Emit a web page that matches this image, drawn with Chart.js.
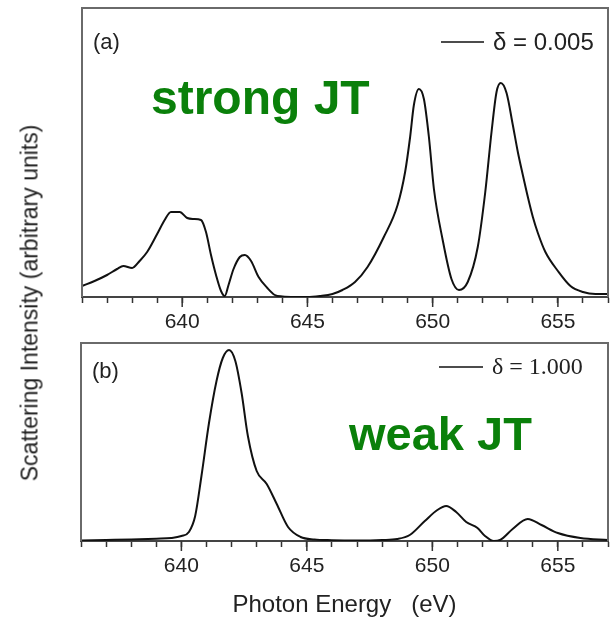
<!DOCTYPE html>
<html>
<head>
<meta charset="utf-8">
<script src="https://cdn.jsdelivr.net/npm/chart.js@4"></script>
<style>
  body { margin: 0; background: #fff; }
  #wrap { position: relative; width: 615px; height: 620px; overflow: hidden; }
  canvas { position: absolute; left: 0; }
  #chartA { top: 0; }
  #chartB { top: 335px; }
  #ytitle {
    position: absolute; left: 30px; top: 303px;
    transform: translate(-50%, -50%) rotate(-90deg);
    white-space: nowrap;
    font: 23px "Liberation Sans", Arial, sans-serif; color: #222;
  }
</style>
</head>
<body>
<div id="wrap">
  <canvas id="chartA" width="615" height="340"></canvas>
  <canvas id="chartB" width="615" height="285"></canvas>
  <div id="ytitle">Scattering Intensity (arbitrary units)</div>
</div>
<script>
// Panel (a): delta = 0.005, strong JT
const energyA = [636.0, 636.5, 637.0, 637.4, 637.65, 638.0, 638.3, 638.6, 639.0, 639.3, 639.55, 639.9,
  640.2, 640.45, 640.75, 640.95, 641.15, 641.35, 641.55, 641.7, 641.85, 642.05, 642.3, 642.5, 642.75,
  643.05, 643.4, 643.7, 644.0, 644.5, 645.0, 645.5, 646.0, 646.4, 646.9, 647.4, 648.05, 648.6, 648.9,
  649.1, 649.25, 649.45, 649.65, 649.85, 650.05, 650.4, 650.75, 651.05, 651.4, 651.8, 652.1, 652.35,
  652.55, 652.72, 652.95, 653.2, 653.4, 653.6, 653.8, 654.0, 654.2, 654.5, 655.0, 655.5, 656.0, 656.5, 657.0];
const intensityA = [11, 16, 22, 28, 31, 29, 36, 45, 63, 77, 85, 85,
  79, 78, 77, 65, 42, 22, 6, 1, 12, 28, 40, 42, 36,
  20, 9, 2, 0.5, 0, 0, 1, 3, 7, 15, 30, 60, 92, 125,
  160, 192, 208, 198, 160, 108, 57, 18, 7, 15, 50, 105, 165,
  205, 214, 204, 172, 145, 122, 100, 80, 64, 45, 26, 11, 5, 3, 3];

// Panel (b): delta = 1.000, weak JT
const energyB = [636.0, 637.0, 638.0, 639.0, 639.6, 640.0, 640.3, 640.55, 640.8, 641.1, 641.4, 641.65,
  641.9, 642.15, 642.4, 642.65, 643.0, 643.4, 643.8, 644.25, 644.75, 645.3, 646.0, 647.0, 648.0, 648.6,
  649.1, 649.7, 650.2, 650.55, 650.95, 651.35, 651.8, 652.1, 652.45, 652.7, 653.2, 653.8, 654.35, 655.0,
  655.9, 657.0];
const intensityB = [0.5, 1, 1.5, 2.3, 3, 5, 9, 25, 65, 118, 160, 183,
  191, 180, 148, 105, 70, 57, 37, 14, 4, 1.5, 0.8, 0.5, 1, 2,
  6, 20, 31, 35, 29, 19, 13, 5, 0, 1, 12, 22, 16, 8,
  3, 1];

const majorTicks = [640, 645, 650, 655];
const sans = '"Liberation Sans", Arial, sans-serif';

// frame, longer major ticks and in-panel labels
const panelDecor = {
  id: 'panelDecor',
  afterDraw(chart, args, opts) {
    const ctx = chart.ctx;
    const a = chart.chartArea;
    const x = chart.scales.x;
    ctx.save();
    ctx.strokeStyle = '#6a6a6a';
    ctx.lineWidth = 2;
    ctx.beginPath();
    ctx.moveTo(a.left, a.bottom);
    ctx.lineTo(a.left, a.top);
    ctx.lineTo(a.right, a.top);
    ctx.lineTo(a.right, a.bottom);
    ctx.stroke();

    ctx.strokeStyle = '#333';
    ctx.lineWidth = 1.5;
    majorTicks.forEach(v => {
      const px = x.getPixelForValue(v);
      ctx.beginPath();
      ctx.moveTo(px, a.bottom);
      ctx.lineTo(px, a.bottom + 10);
      ctx.stroke();
    });

    ctx.fillStyle = '#222';
    ctx.textBaseline = 'alphabetic';
    ctx.font = '22px ' + sans;
    ctx.fillText(opts.tag, opts.tagX, opts.tagY);

    ctx.strokeStyle = '#111';
    ctx.lineWidth = 1.5;
    ctx.beginPath();
    ctx.moveTo(opts.legX1, opts.legY);
    ctx.lineTo(opts.legX2, opts.legY);
    ctx.stroke();
    ctx.textBaseline = 'middle';
    ctx.font = opts.legFont;
    ctx.fillText(opts.legText, opts.legTextX, opts.legY + 1);

    ctx.textBaseline = 'alphabetic';
    ctx.fillStyle = '#0a800a';
    ctx.font = 'bold ' + opts.bigSize + 'px ' + sans;
    ctx.fillText(opts.big, opts.bigX, opts.bigY);
    ctx.restore();
  }
};

function makePanel(id, energy, intensity, yMax, padLeft, axisHeight, withTitle, decor) {
  const ctx = document.getElementById(id).getContext('2d');
  return new Chart(ctx, {
    type: 'line',
    data: {
      datasets: [{
        data: energy.map((e, i) => ({ x: e, y: intensity[i] })),
        borderColor: '#111',
        borderWidth: 2,
        pointRadius: 0,
        cubicInterpolationMode: 'monotone',
        fill: false
      }]
    },
    options: {
      responsive: false,
      animation: false,
      devicePixelRatio: 1,
      layout: { padding: { left: padLeft, top: 8, right: 1, bottom: 0 } },
      plugins: {
        legend: { display: false },
        tooltip: { enabled: false },
        panelDecor: decor
      },
      scales: {
        x: {
          type: 'linear',
          min: 636,
          max: 657,
          afterFit: s => { s.height = axisHeight; },
          border: { display: true, color: '#444', width: 2 },
          grid: { drawOnChartArea: false, drawTicks: true, tickLength: 6, tickColor: '#333', tickWidth: 1.5 },
          ticks: {
            stepSize: 1,
            autoSkip: false,
            maxRotation: 0,
            padding: 7,
            color: '#222',
            font: { family: sans, size: 21 },
            callback: v => (v % 5 === 0 ? String(v) : '')
          },
          title: {
            display: withTitle,
            text: 'Photon Energy   (eV)',
            color: '#222',
            font: { family: sans, size: 24 },
            padding: { top: 0, bottom: 0 }
          }
        },
        y: { display: false, min: 0, max: yMax }
      }
    },
    plugins: [panelDecor]
  });
}

makePanel('chartA', energyA, intensityA, 289, 82, 43, false, {
  tag: '(a)', tagX: 93, tagY: 49,
  legX1: 441, legX2: 484, legY: 42,
  legText: 'δ = 0.005', legTextX: 493, legFont: '24px ' + sans,
  big: 'strong JT', bigSize: 48, bigX: 151, bigY: 114
});

makePanel('chartB', energyB, intensityB, 198, 81, 79, true, {
  tag: '(b)', tagX: 92, tagY: 43,
  legX1: 439, legX2: 483, legY: 32,
  legText: 'δ = 1.000', legTextX: 492, legFont: '24px "Liberation Serif", "Times New Roman", serif',
  big: 'weak JT', bigSize: 47, bigX: 349, bigY: 115
});
</script>
</body>
</html>
